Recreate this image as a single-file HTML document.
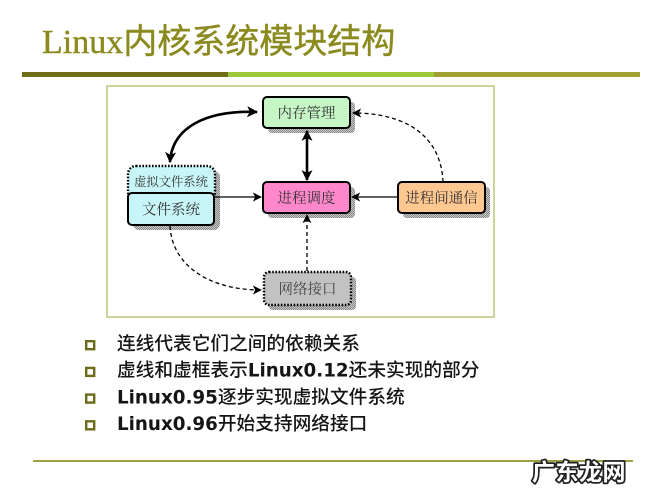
<!DOCTYPE html>
<html><head><meta charset="utf-8">
<style>
html,body{margin:0;padding:0;background:#fff;}
body{width:667px;height:500px;overflow:hidden;}
svg{display:block;}
.bx{font-family:"Noto Serif CJK SC","Noto Serif CJK SC Medium",serif;font-size:14.5px;fill:#333;text-anchor:middle;}
.bl{font-family:"Noto Sans CJK SC","WenQuanYi Zen Hei",sans-serif;font-size:18.7px;fill:#151515;font-weight:500;}
.lt{font-family:"DejaVu Sans",sans-serif;font-weight:bold;font-size:18.3px;}
.tt{font-family:"Liberation Serif",serif;font-size:34px;fill:#8a8a1e;}
.tc{font-family:"Noto Sans CJK SC","WenQuanYi Zen Hei",sans-serif;font-weight:400;}
</style></head>
<body>
<svg width="667" height="500" viewBox="0 0 667 500" xmlns="http://www.w3.org/2000/svg">
<defs>
  <pattern id="chk" width="2" height="2" patternUnits="userSpaceOnUse">
    <rect width="2" height="2" fill="#c8c8c8"/>
    <rect width="1" height="1" fill="#888"/>
    <rect x="1" y="1" width="1" height="1" fill="#888"/>
  </pattern>
  <marker id="ah" viewBox="0 0 10 10" refX="9" refY="5" markerWidth="9" markerHeight="9" markerUnits="userSpaceOnUse" orient="auto-start-reverse">
    <path d="M0,0 L10,5 L0,10 L2.5,5 z" fill="#000"/>
  </marker>
  <marker id="ahb" viewBox="0 0 10 10" refX="9" refY="5" markerWidth="11" markerHeight="11" markerUnits="userSpaceOnUse" orient="auto-start-reverse">
    <path d="M0,0 L10,5 L0,10 L2.5,5 z" fill="#000"/>
  </marker>
</defs>

<!-- Title -->
<text x="42" y="53" class="tt" stroke="#8a8a1e" stroke-width="0.4">Linux<tspan class="tc">内核系统模块结构</tspan></text>

<!-- Title bars -->
<rect x="22" y="72" width="206" height="5" fill="#6e6e18"/>
<rect x="228" y="72" width="206" height="5" fill="#9cc83a"/>
<rect x="434" y="72" width="206" height="5" fill="#a0a032"/>

<!-- Frame -->
<rect x="107" y="86" width="387" height="231" fill="#fff" stroke="#cfd39c" stroke-width="2"/>

<!-- Shadows -->
<rect x="268" y="102" width="87" height="31" rx="4" fill="url(#chk)"/>
<rect x="268" y="187" width="87" height="31" rx="4" fill="url(#chk)"/>
<rect x="403" y="187" width="87" height="31" rx="4" fill="url(#chk)"/>
<rect x="133" y="171" width="87" height="59" rx="6" fill="url(#chk)"/>
<rect x="269" y="277" width="87" height="33" rx="4" fill="url(#chk)"/>

<!-- Connectors -->
<path d="M257,112 C205,110 172,128 170,162" fill="none" stroke="#000" stroke-width="2.6" marker-start="url(#ahb)" marker-end="url(#ahb)"/>
<line x1="307" y1="131" x2="307" y2="180" stroke="#000" stroke-width="2.6" marker-start="url(#ahb)" marker-end="url(#ahb)"/>
<line x1="214" y1="197" x2="261" y2="197" stroke="#000" stroke-width="1.3" marker-end="url(#ah)"/>
<line x1="398" y1="197" x2="352" y2="197" stroke="#000" stroke-width="1.3" marker-end="url(#ah)"/>
<path d="M443,182 C441,135 405,113 353,113" fill="none" stroke="#000" stroke-width="1.3" stroke-dasharray="4 3" marker-end="url(#ah)"/>
<path d="M170,226 C172,266 210,290 261,290" fill="none" stroke="#000" stroke-width="1.3" stroke-dasharray="4 3" marker-end="url(#ah)"/>
<line x1="307" y1="271" x2="307" y2="215" stroke="#000" stroke-width="1.3" stroke-dasharray="4 3" marker-end="url(#ah)"/>

<!-- Boxes -->
<rect x="263" y="97" width="87" height="31" rx="4" fill="#c6f5c6" stroke="#000" stroke-width="2"/>
<text x="306.5" y="118" class="bx">内存管理</text>

<rect x="263" y="182" width="87" height="31" rx="4" fill="#ff88cc" stroke="#000" stroke-width="2"/>
<text x="306.5" y="203" class="bx">进程调度</text>

<rect x="398" y="182" width="87" height="31" rx="4" fill="#ffc890" stroke="#000" stroke-width="2"/>
<text x="441.5" y="203" class="bx">进程间通信</text>

<rect x="128" y="166" width="87" height="34" rx="8" fill="#c8f6f8" stroke="#000" stroke-width="2.4" stroke-dasharray="1.6 1.6"/>
<text x="171" y="186" class="bx" style="font-size:12.3px">虚拟文件系统</text>
<rect x="128" y="193" width="86" height="32" rx="4" fill="#c8f6f8" stroke="#000" stroke-width="2"/>
<text x="171" y="214.5" class="bx">文件系统</text>

<rect x="264" y="272" width="87" height="33" rx="5" fill="#c2c2c2" stroke="#000" stroke-width="2.4" stroke-dasharray="1.6 1.6"/>
<text x="307.5" y="294" class="bx" style="fill:#444">网络接口</text>

<!-- Bullets -->
<g fill="#fff" stroke="#6b6b1a" stroke-width="2.4">
  <rect x="86.2" y="341.2" width="8" height="8"/>
  <rect x="86.2" y="367.9" width="8" height="8"/>
  <rect x="86.2" y="394.6" width="8" height="8"/>
  <rect x="86.2" y="421.3" width="8" height="8"/>
</g>
<text x="117" y="350" class="bl">连线代表它们之间的依赖关系</text>
<text x="117" y="376.7" class="bl">虚线和虚框表示<tspan class="lt">Linux0.12</tspan>还未实现的部分</text>
<text x="117" y="403.4" class="bl"><tspan class="lt">Linux0.95</tspan>逐步实现虚拟文件系统</text>
<text x="117" y="430.1" class="bl"><tspan class="lt">Linux0.96</tspan>开始支持网络接口</text>

<!-- Bottom line -->
<rect x="33" y="460" width="600" height="2" fill="#9fa044"/>

<!-- Watermark -->
<text x="532" y="480" font-family="Noto Sans CJK SC, WenQuanYi Zen Hei, sans-serif" font-weight="bold" font-size="23" fill="#fff" stroke="#222" stroke-width="3.5" stroke-linejoin="round" paint-order="stroke" letter-spacing="0.5">广东龙网</text>
</svg>
</body></html>
